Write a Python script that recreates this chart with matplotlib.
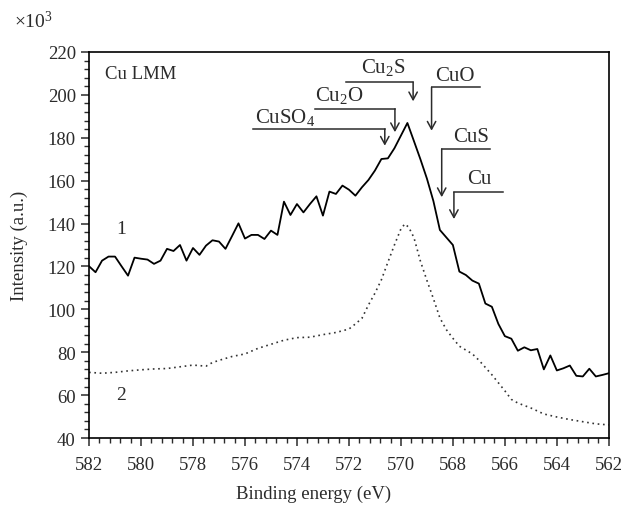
import numpy as np
import matplotlib
matplotlib.use("Agg")
import matplotlib.pyplot as plt
from matplotlib.ticker import MultipleLocator

plt.rcParams['font.family'] = ['Liberation Serif', 'DejaVu Serif']
plt.rcParams['mathtext.fontset'] = 'custom'
plt.rcParams['mathtext.rm'] = 'Liberation Serif'
plt.rcParams['mathtext.default'] = 'rm'

# ---- data ----
energy1 = [582 - 0.25 * i for i in range(81)]
intensity1 = [
    120.1, 117.3, 122.7, 124.6, 124.6, 120.1, 115.7, 124.1, 123.6, 123.2,
    121.2, 122.7, 128.2, 127.2, 130.0, 122.7, 128.6, 125.4, 129.7, 132.2,
    131.6, 128.2, 134.1, 140.1, 133.0, 134.7, 134.7, 132.8, 136.7, 134.7,
    150.2, 144.0, 149.1, 145.2, 149.1, 152.7, 143.7, 154.9, 153.8, 157.7,
    155.8, 153.0, 156.9, 160.3, 164.7, 170.1, 170.4, 175.1, 181.0, 186.9,
    178.5, 170.0, 161.0, 150.5, 137.0, 133.5, 130.0, 117.6, 116.0, 113.4,
    112.0, 102.7, 101.2, 93.2, 87.5, 86.3, 80.7, 82.3, 80.9, 81.5,
    72.0, 78.5, 71.5, 72.5, 73.8, 69.0, 68.7, 72.3, 68.7, 69.4,
    70.2,
]

energy2 = [582, 581.5, 581, 580.5, 580, 579.5, 579, 578.5, 578, 577.5,
           577.25, 577, 576.5, 576, 575.5, 575, 574.5, 574, 573.5, 573,
           572.5, 572, 571.75, 571.5, 571.25, 571, 570.75, 570.5, 570.25, 570,
           569.85, 569.7, 569.5, 569.25, 569, 568.75, 568.5, 568.25, 568, 567.75,
           567.5, 567.25, 567, 566.5, 566, 565.75, 565.5, 565, 564.5, 564,
           563.5, 563, 562.5, 562]
intensity2 = [70.6, 70.2, 70.6, 71.3, 71.8, 72.2, 72.4, 73.2, 74.0, 73.5,
              75.2, 76.2, 78.0, 79.2, 81.8, 83.7, 85.6, 86.8, 87.0, 88.2,
              89.2, 90.8, 93.2, 95.8, 102.0, 107.5, 113.8, 122.0, 130.0, 137.5,
              139.8, 138.3, 133.5, 122.5, 113.5, 105.0, 96.0, 90.5, 86.5, 82.8,
              81.0, 79.2, 76.3, 69.5, 62.0, 58.0, 56.3, 54.0, 51.2, 49.8,
              48.6, 47.6, 46.6, 46.1]

x_ticks = [582, 580, 578, 576, 574, 572, 570, 568, 566, 564, 562]
y_ticks = [40, 60, 80, 100, 120, 140, 160, 180, 200, 220]

# peak annotations: label, text x, text y, line start x, corner x, line y, arrow tip y, ha
annotations = [
    ("CuSO$_4$", 575.62, 190.0, 575.68, 570.62, 184.1, 176.3, 'left'),
    ("Cu$_2$O", 573.31, 200.0, 573.31, 570.23, 193.5, 182.6, 'left'),
    ("Cu$_2$S", 570.69, 213.0, 572.12, 569.53, 205.9, 197.0, 'center'),
    ("CuO", 568.69, 209.0, 566.96, 568.82, 203.6, 183.3, 'left'),
    ("CuS", 568.00, 180.5, 566.58, 568.43, 174.8, 152.3, 'left'),
    ("Cu", 567.46, 160.8, 566.08, 567.96, 154.6, 142.1, 'left'),
]

ink = '#2b2b2b'
fig = plt.figure(figsize=(6.27, 5.06), dpi=100)
ax = fig.add_axes([0.142, 0.1324, 0.829, 0.7629])

ax.plot(energy1, intensity1, color='black', lw=1.3)
ax.plot(energy2, intensity2, color='#333333', lw=1.2, linestyle=(0, (1, 2.2)))

for lab, tx, ty, x0, xc, ly, tipy, ha in annotations:
    ax.plot([x0, xc], [ly, ly], color=ink, lw=1.1)
    ax.annotate('', xy=(xc, tipy), xytext=(xc, ly),
                arrowprops=dict(arrowstyle='->,head_length=0.55,head_width=0.3',
                                color=ink, lw=1.1, shrinkA=0, shrinkB=0))
    ax.text(tx, ty, lab, ha=ha, va='center', fontsize=15, color=ink)

ax.text(581.4, 209.8, "Cu LMM", ha='left', va='center', fontsize=13.5, color=ink)
ax.text(580.77, 137.5, "1", ha='center', va='center', fontsize=14, color=ink)
ax.text(580.77, 60.5, "2", ha='center', va='center', fontsize=14, color=ink)

ax.set_xlim(582, 562)
ax.set_ylim(40, 220)
ax.set_xticks(x_ticks)
ax.set_yticks(y_ticks)
ax.xaxis.set_minor_locator(MultipleLocator(0.4))
ax.yaxis.set_minor_locator(MultipleLocator(4))
ax.tick_params(axis='both', which='major', direction='out', length=6, width=1.1,
               labelsize=13.5, colors=ink, labelcolor=ink)
ax.tick_params(axis='x', which='major', pad=7)
ax.tick_params(axis='both', which='minor', direction='out', length=3.5, width=1.0, colors=ink)
ax.tick_params(top=False, right=False, which='both')
for s in ax.spines.values():
    s.set_linewidth(1.2)
    s.set_color('black')

fig.text(0.5, 1 - 494 / 506, "Binding energy (eV)", fontsize=13.5, color=ink,
         ha='center', va='center')
ax.set_ylabel("Intensity (a.u.)", fontsize=13.5, color=ink, labelpad=14)
fig.text(0.022, 0.958, r"$\times10^3$", fontsize=14, color=ink, ha='left', va='center')

fig.savefig("out.png", dpi=100)
